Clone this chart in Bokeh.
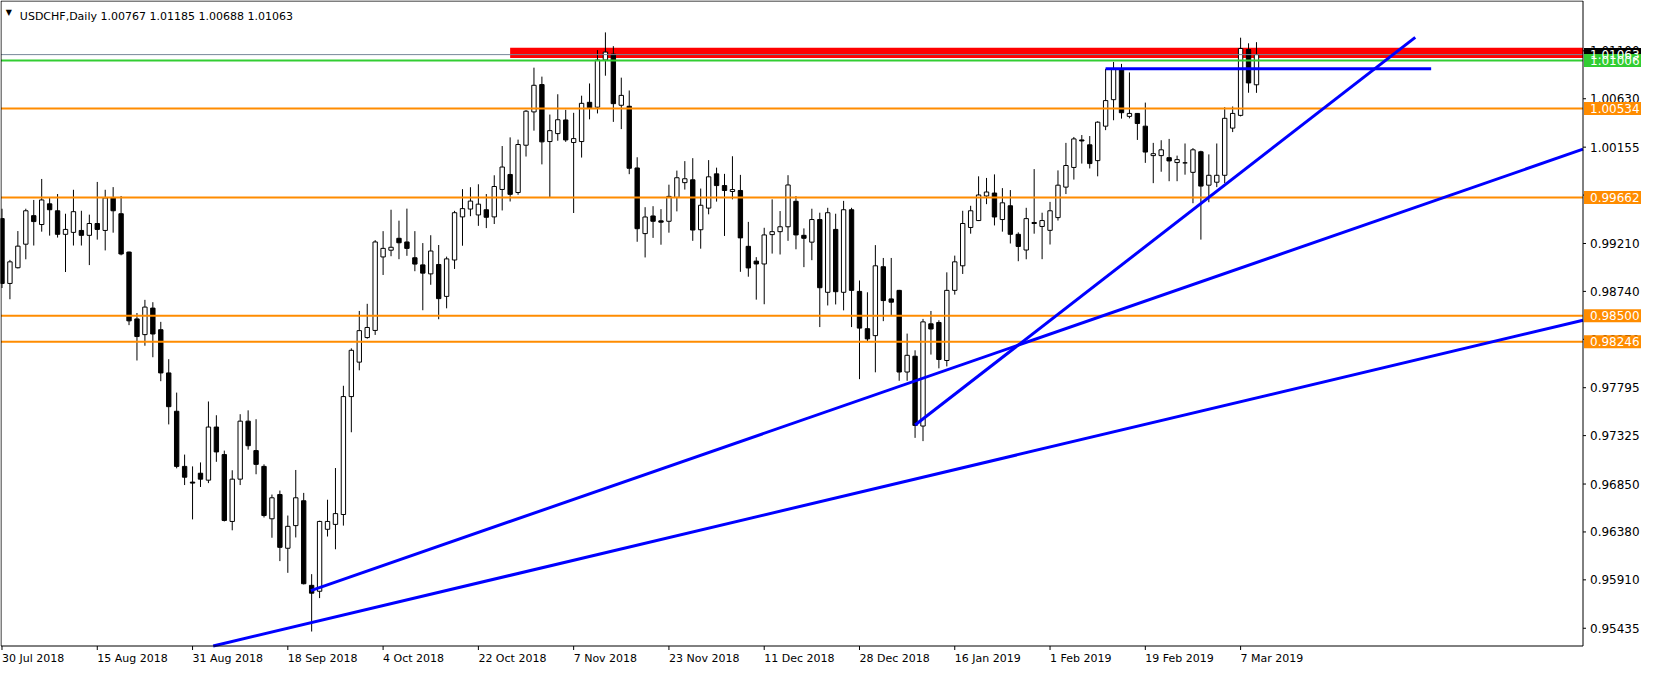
from bokeh.plotting import figure
from bokeh.models import Range1d, ColumnDataSource
from bokeh.core.properties import value
from bokeh.embed import file_html
from bokeh.resources import INLINE

# ---- data (USDCHF daily) ----
opens = [0.99454, 0.98818, 0.98972, 0.99203, 0.99483, 0.99396, 0.99599, 0.99531, 0.99300, 0.99319,
         0.99338, 0.99290, 0.99406, 0.99338, 0.99657, 0.99502, 0.99126, 0.98470, 0.98316, 0.98576,
         0.98364, 0.97940, 0.97564, 0.97023, 0.96869, 0.96956, 0.96888, 0.97409, 0.97139, 0.96483,
         0.96898, 0.97467, 0.97178, 0.97023, 0.96509, 0.96747, 0.96220, 0.96442, 0.96686, 0.95856,
         0.95798, 0.96406, 0.96454, 0.96551, 0.97708, 0.98046, 0.98287, 0.98357, 0.99078, 0.99144,
         0.99261, 0.99225, 0.99070, 0.99000, 0.98912, 0.99004, 0.98691, 0.99048, 0.99471, 0.99548,
         0.99490, 0.99541, 0.99471, 0.99740, 0.99887, 0.99710, 1.00174, 1.00501, 1.00769, 1.00210,
         1.00288, 1.00422, 1.00201, 1.00210, 1.00595, 1.00547, 1.01010, 1.01068, 1.00566, 1.00556,
         0.99951, 0.99307, 0.99480, 0.99432, 0.99428, 0.99662, 0.99807, 0.99835, 0.99345, 0.99557,
         0.99893, 0.99778, 0.99720, 0.99730, 0.99182, 0.99037, 0.99009, 0.99297, 0.99326, 0.99374,
         0.99624, 0.99290, 0.99223, 0.99445, 0.98731, 0.99348, 0.98731, 0.99541, 0.98740, 0.98374,
         0.98306, 0.98982, 0.98666, 0.98750, 0.97949, 0.98104, 0.97419, 0.98422, 0.98435, 0.98062,
         0.98750, 0.98991, 0.99367, 0.99435, 0.99676, 0.99705, 0.99445, 0.99580, 0.99300, 0.99146,
         0.99416, 0.99377, 0.99339, 0.99464, 0.99763, 0.99956, 1.00226, 1.00178, 1.00023, 1.00361,
         1.00621, 1.00914, 1.00457, 1.00486, 1.00361, 1.00072, 1.00072, 1.00052, 1.00004, 1.00001,
         0.99908, 1.00110, 0.99782, 0.99811, 0.99879, 1.00342, 1.00467, 1.01113, 1.00767]
highs = [0.99551, 0.99049, 0.99332, 0.99551, 0.99637, 0.99843, 0.99657, 0.99695, 0.99502, 0.99737,
         0.99531, 0.99493, 0.99814, 0.99737, 0.99763, 0.99676, 0.99130, 0.98528, 0.98657, 0.98634,
         0.98441, 0.98075, 0.97747, 0.97139, 0.97023, 0.97062, 0.97660, 0.97525, 0.97178, 0.96985,
         0.97535, 0.97573, 0.97486, 0.97043, 0.96747, 0.96786, 0.96541, 0.96988, 0.96763, 0.95966,
         0.96490, 0.96696, 0.97007, 0.97814, 0.98181, 0.98548, 0.98618, 0.99243, 0.99331, 0.99541,
         0.99434, 0.99552, 0.99331, 0.99214, 0.99291, 0.99195, 0.99081, 0.99530, 0.99743, 0.99762,
         0.99791, 0.99695, 0.99879, 1.00166, 1.00251, 1.00229, 1.00519, 1.00935, 1.00847, 1.00475,
         1.00674, 1.00521, 1.00492, 1.00660, 1.00780, 1.01107, 1.01281, 1.01146, 1.00837, 1.00711,
         1.00056, 0.99566, 0.99576, 0.99547, 0.99787, 0.99925, 1.00018, 1.00047, 0.99749, 1.00028,
         0.99954, 0.99893, 1.00066, 0.99883, 0.99422, 0.99076, 0.99364, 0.99643, 0.99528, 0.99880,
         0.99675, 0.99358, 0.99551, 0.99512, 0.99560, 0.99502, 0.99628, 0.99560, 0.98847, 0.98731,
         0.99194, 0.99068, 0.99068, 0.98755, 0.98326, 0.98162, 0.98470, 0.98548, 0.98457, 0.98927,
         0.99091, 0.99531, 0.99580, 0.99869, 0.99853, 0.99888, 0.99753, 0.99734, 0.99319, 0.99560,
         0.99940, 0.99512, 0.99618, 0.99927, 1.00197, 1.00255, 1.00274, 1.00264, 1.00409, 1.00924,
         1.00991, 1.00972, 1.00888, 1.00490, 1.00592, 1.00197, 1.00223, 1.00236, 1.00072, 1.00191,
         1.00146, 1.00120, 1.00084, 1.00191, 1.00547, 1.00554, 1.01229, 1.01174, 1.01185]
lows = [0.98773, 0.98663, 0.98965, 0.99055, 0.99190, 0.99326, 0.99287, 0.99268, 0.98930, 0.99190,
        0.99190, 0.98998, 0.99248, 0.99142, 0.99316, 0.99094, 0.98409, 0.98062, 0.98207, 0.98094,
        0.97859, 0.97435, 0.97004, 0.96840, 0.96503, 0.96821, 0.96859, 0.97068, 0.96483, 0.96396,
        0.96840, 0.97187, 0.96946, 0.96522, 0.96323, 0.96094, 0.95979, 0.96326, 0.95865, 0.95403,
        0.95731, 0.96335, 0.96210, 0.96442, 0.97358, 0.97966, 0.98276, 0.98313, 0.98901, 0.99085,
        0.99056, 0.99089, 0.98938, 0.98555, 0.98805, 0.98467, 0.98574, 0.98960, 0.99188, 0.99478,
        0.99383, 0.99361, 0.99401, 0.99534, 0.99622, 0.99688, 1.00063, 1.00317, 0.99986, 0.99666,
        1.00218, 1.00207, 0.99509, 1.00053, 1.00428, 1.00486, 1.00856, 1.00403, 1.00332, 0.99890,
        0.99227, 0.99073, 0.99265, 0.99198, 0.99316, 0.99525, 0.99739, 0.99236, 0.99159, 0.99496,
        0.99621, 0.99284, 0.99643, 0.98932, 0.98884, 0.98659, 0.98614, 0.99111, 0.99102, 0.99236,
        0.99153, 0.98978, 0.99046, 0.98390, 0.98602, 0.98612, 0.98554, 0.98390, 0.97879, 0.98248,
        0.97946, 0.98448, 0.98506, 0.97863, 0.97863, 0.97303, 0.97271, 0.98120, 0.97985, 0.98004,
        0.98708, 0.98911, 0.99306, 0.99430, 0.99596, 0.99387, 0.99326, 0.99210, 0.99036, 0.99055,
        0.99306, 0.99056, 0.99200, 0.99435, 0.99695, 0.99837, 0.99994, 0.99946, 0.99869, 1.00322,
        1.00419, 1.00435, 1.00438, 1.00226, 1.00001, 0.99802, 0.99914, 0.99821, 0.99821, 0.99885,
        0.99605, 0.99248, 0.99615, 0.99763, 0.99802, 1.00303, 1.00457, 1.00689, 1.00688]
closes = [0.98818, 0.99030, 0.99184, 0.99531, 0.99425, 0.99637, 0.99541, 0.99300, 0.99348, 0.99522,
          0.99290, 0.99406, 0.99348, 0.99657, 0.99531, 0.99107, 0.98451, 0.98297, 0.98586, 0.98322,
          0.97940, 0.97609, 0.97023, 0.96917, 0.96859, 0.96898, 0.97409, 0.97165, 0.96493, 0.96898,
          0.97467, 0.97226, 0.97043, 0.96541, 0.96715, 0.96229, 0.96435, 0.96715, 0.95872, 0.95779,
          0.96483, 0.96483, 0.96560, 0.97708, 0.98162, 0.98355, 0.98386, 0.99225, 0.99162, 0.99173,
          0.99217, 0.99162, 0.99008, 0.98919, 0.99136, 0.98669, 0.99059, 0.99512, 0.99552, 0.99626,
          0.99596, 0.99467, 0.99769, 0.99960, 0.99692, 1.00181, 1.00508, 1.00762, 1.00207, 1.00317,
          1.00424, 1.00226, 1.00239, 1.00585, 1.00540, 1.01010, 1.01088, 1.00582, 1.00663, 0.99948,
          0.99355, 0.99470, 0.99428, 0.99419, 0.99672, 0.99855, 0.99845, 0.99342, 0.99585, 0.99864,
          0.99778, 0.99730, 0.99739, 0.99265, 0.98970, 0.99009, 0.99294, 0.99326, 0.99374, 0.99784,
          0.99294, 0.99261, 0.99445, 0.98776, 0.99512, 0.98737, 0.99541, 0.98750, 0.98380, 0.98274,
          0.98991, 0.98650, 0.98634, 0.97949, 0.98113, 0.97425, 0.98441, 0.98371, 0.98072, 0.98750,
          0.99030, 0.99406, 0.99531, 0.99686, 0.99715, 0.99470, 0.99609, 0.99300, 0.99181, 0.99454,
          0.99406, 0.99435, 0.99531, 0.99782, 0.99975, 1.00236, 1.00216, 0.99994, 1.00400, 1.00612,
          1.00924, 1.00493, 1.00486, 1.00387, 1.00107, 1.00091, 1.00129, 1.00020, 1.00033, 1.00001,
          1.00129, 0.99773, 0.99879, 0.99879, 1.00438, 1.00486, 1.01123, 1.00785, 1.01063]

date_labels = ["30 Jul 2018", "15 Aug 2018", "31 Aug 2018", "18 Sep 2018", "4 Oct 2018",
               "22 Oct 2018", "7 Nov 2018", "23 Nov 2018", "11 Dec 2018", "28 Dec 2018",
               "16 Jan 2019", "1 Feb 2019", "19 Feb 2019", "7 Mar 2019"]
bars_per_label = 12

price_ticks = [0.95435, 0.95910, 0.96380, 0.96850, 0.97325, 0.97795, 0.98270,
               0.98740, 0.99210, 0.99685, 1.00155, 1.00630, 1.01100]

level_prices = [1.00534, 0.99662, 0.98500, 0.98246]
bid_price = 1.01063
green_price = 1.01006

zone_left = 64
zone_bottom = 1.01030
zone_top = 1.01130

trend_x0 = [139, 115, 38.9, 26.6]
trend_y0 = [1.00924, 0.97429, 0.95805, 0.95261]
trend_x1 = [180, 178, 199.125, 199.125]
trend_y1 = [1.00924, 1.01232, 1.00135, 0.98457]

header = "USDCHF,Daily  1.00767 1.01185 1.00688 1.01063"

# ---- styling / layout ----
FONT = "DejaVu Sans"
FS = "11px"
FS_PRICE = "12px"
ORANGE = "#FF8C00"
GREEN = "#32CD32"
GRAY = "#778899"
BLUE = "#0000FF"

W, H = 1644, 667
XL, XC = -0.125, 199.125          # chart area in bar units
YT, YB = 1.01589, 0.95261         # chart area in price units
CX_L, CX_R, CY_T, CY_B = 0.5, 1582.5, 0.5, 645.5   # chart border in canvas pixels
ppb = (CX_R - CX_L) / (XC - XL)
dpp = (YT - YB) / (CY_B - CY_T)
x_start = XL - CX_L / ppb
x_end = x_start + W / ppb
y_end = YT + CY_T * dpp
y_start = y_end - H * dpp

p = figure(frame_width=W, frame_height=H, output_backend="svg", toolbar_location=None,
           x_range=Range1d(x_start, x_end), y_range=Range1d(y_start, y_end),
           x_axis_location=None, y_axis_location=None,
           min_border=0, min_border_left=0, min_border_right=0,
           min_border_top=0, min_border_bottom=0)
p.xgrid.visible = False
p.ygrid.visible = False
p.outline_line_color = None
p.background_fill_color = "white"
p.border_fill_color = "white"

# red zone
p.quad(left=[zone_left], right=[XC], bottom=[zone_bottom], top=[zone_top],
       fill_color="#FF0000", line_color=None)

# candles
xs = list(range(len(opens)))
src = ColumnDataSource(dict(
    x=xs, high=highs, low=lows,
    top=[max(o, c) for o, c in zip(opens, closes)],
    bottom=[min(o, c) for o, c in zip(opens, closes)],
    fill=["white" if c >= o else "black" for o, c in zip(opens, closes)]))
p.segment(x0="x", y0="low", x1="x", y1="high", source=src, line_color="black", line_width=1)
p.vbar(x="x", top="top", bottom="bottom", width=0.55, fill_color="fill",
       line_color="black", line_width=1, source=src)

# horizontal levels
n = len(level_prices)
p.segment(x0=[XL] * n, y0=level_prices, x1=[XC] * n, y1=level_prices,
          line_color=ORANGE, line_width=2)
p.segment(x0=[XL], y0=[bid_price], x1=[XC], y1=[bid_price], line_color=GRAY, line_width=1)
p.segment(x0=[XL], y0=[green_price], x1=[XC], y1=[green_price], line_color=GREEN, line_width=2)

# trend lines
p.segment(x0=trend_x0, y0=trend_y0, x1=trend_x1, y1=trend_y1, line_color=BLUE, line_width=3)

# chart border
p.segment(x0=[XL, XL, XC, XL], y0=[YB, YT, YB, YB], x1=[XL, XC, XC, XC], y1=[YT, YT, YT, YB],
          line_color="black", line_width=1)

# right price scale
nt = len(price_ticks)
p.segment(x0=[XC] * nt, y0=price_ticks, x1=[XC + 3 / ppb] * nt, y1=price_ticks,
          line_color="black", line_width=1)
p.text(x=[XC] * nt, y=price_ticks, text=["%.5f" % t for t in price_ticks], x_offset=7,
       text_font=value(FONT), text_font_size=FS_PRICE, text_color="black",
       text_align="left", text_baseline="middle")

# price boxes
box_prices = [bid_price, green_price] + level_prices
box_colors = ["black", GREEN] + [ORANGE] * n
nb = len(box_prices)
p.rect(x=[XC + 29.5 / ppb] * nb, y=box_prices, width=57, height=13,
       width_units="screen", height_units="screen",
       fill_color=box_colors, line_color=None)
p.text(x=[XC] * nb, y=box_prices, text=["%.5f" % b for b in box_prices], x_offset=7,
       text_font=value(FONT), text_font_size=FS_PRICE, text_color="white",
       text_align="left", text_baseline="middle")

# date scale
nd = len(date_labels)
date_x = [i * bars_per_label for i in range(nd)]
p.segment(x0=date_x, y0=[YB] * nd, x1=date_x, y1=[YB - 4 * dpp] * nd,
          line_color="black", line_width=1)
p.text(x=date_x, y=[YB - 12.5 * dpp] * nd, text=date_labels, x_offset=0,
       text_font=value(FONT), text_font_size=FS, text_color="black",
       text_align="left", text_baseline="middle")

# header
p.text(x=[0.46], y=[YT - 11.5 * dpp], text=["\u25BC"], text_font=value(FONT),
       text_font_size="8px", text_color="black", text_align="left", text_baseline="middle")
p.text(x=[2.25], y=[YT - 15 * dpp], text=[header], text_font=value(FONT),
       text_font_size=FS, text_color="black", text_align="left", text_baseline="alphabetic")

open("out.html", "w").write(file_html(p, INLINE))
